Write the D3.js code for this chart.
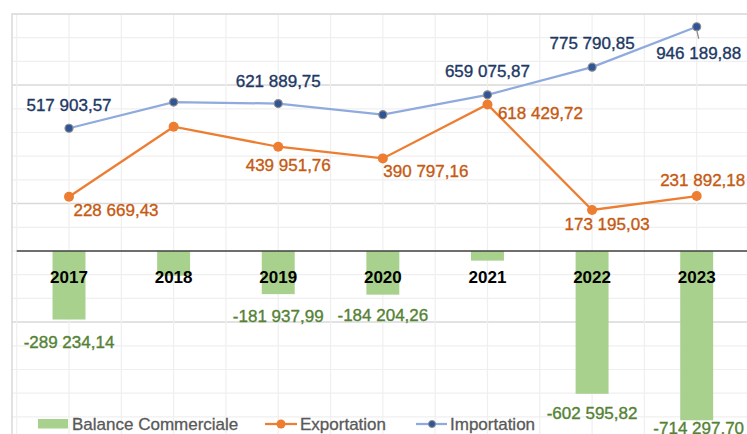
<!DOCTYPE html>
<html>
<head>
<meta charset="utf-8">
<script src="https://cdn.jsdelivr.net/npm/d3@7"></script>
<style>
  body { margin: 0; background: #fff; overflow: hidden; }
  svg text { font-family: "Liberation Sans", Arial, sans-serif; }
</style>
</head>
<body>
<div id="chart"></div>
<script>
// data
const years = ['2017', '2018', '2019', '2020', '2021', '2022', '2023'];
const importation = [517903.57, 628500, 621889.75, 575001.42, 659075.87, 775790.85, 946189.88];
const exportation = [228669.43, 524300, 439951.76, 390797.16, 618429.72, 173195.03, 231892.18];
const balance = [-289234.14, -104200, -181937.99, -184204.26, -40646.15, -602595.82, -714297.70];

// label placement (offset of label centre from the point / bar end), null = no label
const importLabelOffsets = [[0, -23], null, [0, -22], null, [0, -23], [0, -24], [2, 27]];
const exportLabelOffsets = [[47, 14], null, [10, 19], [43, 13], [53, 9], [15, 15], [6, -16]];
const balanceLabelOffsets = [[0, 23], null, [0, 22], [0, 21], null, [0, 20], [2, 8]];

const width = 747, height = 434;
const plot = { left: 16.7, right: 749, top: 14, bottom: 440.6 };

const fr = d3.formatLocale({ decimal: ',', thousands: ' ', grouping: [3], currency: ['', ''], minus: '-' });
const fmt = fr.format(',.2f');

const svg = d3.select('#chart').append('svg')
  .attr('width', width)
  .attr('height', height);

const x = d3.scaleBand()
  .domain(years)
  .range([plot.left, plot.right])
  .padding(0);
const cx = d => x(d) + x.bandwidth() / 2;

const y = d3.scaleLinear()
  .domain([-800000, 1000000])
  .range([plot.bottom, plot.top]);

// horizontal gridlines (minor every 100 000, major every 500 000 from the min)
const hTicks = d3.range(-800000, 1000001, 100000);
svg.append('g').selectAll('line')
  .data(hTicks)
  .join('line')
  .attr('x1', 12).attr('x2', width)
  .attr('y1', d => y(d)).attr('y2', d => y(d))
  .attr('stroke', d => ((d + 800000) % 500000 === 0) ? '#d9d9d9' : '#efefef')
  .attr('stroke-width', d => ((d + 800000) % 500000 === 0) ? 1.5 : 1.2);

// vertical gridlines at band edges and centres
const vLines = [];
years.forEach(d => { vLines.push(x(d)); vLines.push(cx(d)); });
svg.append('g').selectAll('line')
  .data(vLines)
  .join('line')
  .attr('x1', d => d).attr('x2', d => d)
  .attr('y1', plot.top).attr('y2', height)
  .attr('stroke', '#efefef')
  .attr('stroke-width', 1.2);

// outer chart border
svg.append('path')
  .attr('d', `M12,${height}V14H${width}`)
  .attr('fill', 'none')
  .attr('stroke', '#d9d9d9')
  .attr('stroke-width', 1.5);

// bars
const barW = x.bandwidth() * 0.315;
svg.append('g').selectAll('rect')
  .data(years)
  .join('rect')
  .attr('x', (d, i) => cx(d) - barW / 2)
  .attr('y', (d, i) => y(Math.max(0, balance[i])))
  .attr('width', barW)
  .attr('height', (d, i) => Math.abs(y(balance[i]) - y(0)))
  .attr('fill', '#a9d18e');

// zero axis
svg.append('line')
  .attr('x1', plot.left).attr('x2', width)
  .attr('y1', y(0)).attr('y2', y(0))
  .attr('stroke', '#404040')
  .attr('stroke-width', 1.3);

// category labels
svg.append('g').selectAll('text')
  .data(years)
  .join('text')
  .attr('x', d => cx(d))
  .attr('y', y(0) + 26)
  .attr('text-anchor', 'middle')
  .attr('dominant-baseline', 'central')
  .attr('font-size', 17)
  .attr('font-weight', 'bold')
  .attr('fill', '#000')
  .text(d => d);

const line = d3.line().x(d => cx(d[0])).y(d => y(d[1]));

// importation line
svg.append('path')
  .datum(years.map((d, i) => [d, importation[i]]))
  .attr('d', line)
  .attr('fill', 'none')
  .attr('stroke', '#8faadc')
  .attr('stroke-width', 2.25);

// exportation line
svg.append('path')
  .datum(years.map((d, i) => [d, exportation[i]]))
  .attr('d', line)
  .attr('fill', 'none')
  .attr('stroke', '#ed7d31')
  .attr('stroke-width', 2.25);

// markers
svg.append('g').selectAll('circle')
  .data(years)
  .join('circle')
  .attr('cx', d => cx(d))
  .attr('cy', (d, i) => y(importation[i]))
  .attr('r', 4)
  .attr('fill', '#2f5597')
  .attr('stroke', '#8c8c8c')
  .attr('stroke-width', 1.2);

svg.append('g').selectAll('circle')
  .data(years)
  .join('circle')
  .attr('cx', d => cx(d))
  .attr('cy', (d, i) => y(exportation[i]))
  .attr('r', 5)
  .attr('fill', '#ed7d31');

// leader line for the last importation label
const last = years.length - 1;
svg.append('line')
  .attr('x1', cx(years[last])).attr('y1', y(importation[last]) + 3)
  .attr('x2', cx(years[last]) + 2).attr('y2', y(importation[last]) + 12)
  .attr('stroke', '#8c8c8c')
  .attr('stroke-width', 1.2);

// data labels (thin stroke to get closer to the heavier look of the original)
const drawLabels = (values, offsets, color) => {
  svg.append('g').selectAll('text')
    .data(years.filter((d, i) => offsets[i]))
    .join('text')
    .attr('x', d => cx(d) + offsets[years.indexOf(d)][0])
    .attr('y', d => y(values[years.indexOf(d)]) + offsets[years.indexOf(d)][1])
    .attr('text-anchor', 'middle')
    .attr('dominant-baseline', 'central')
    .attr('font-size', 17)
    .attr('fill', color)
    .attr('stroke', color)
    .attr('stroke-width', 0.35)
    .text(d => fmt(values[years.indexOf(d)]));
};
drawLabels(importation, importLabelOffsets, '#203864');
drawLabels(exportation, exportLabelOffsets, '#c55a11');
drawLabels(balance, balanceLabelOffsets, '#548235');

// legend
const legend = svg.append('g').attr('transform', 'translate(0,424)');
legend.append('rect')
  .attr('x', 38).attr('y', -5).attr('width', 30).attr('height', 9.5)
  .attr('fill', '#a9d18e');
legend.append('text')
  .attr('x', 72).attr('y', 0)
  .attr('dominant-baseline', 'central')
  .attr('font-size', 17).attr('fill', '#595959')
  .attr('stroke', '#595959').attr('stroke-width', 0.3)
  .text('Balance Commerciale');

legend.append('line')
  .attr('x1', 265).attr('x2', 297).attr('y1', 0).attr('y2', 0)
  .attr('stroke', '#ed7d31').attr('stroke-width', 2.25);
legend.append('circle')
  .attr('cx', 281).attr('cy', 0).attr('r', 4.5).attr('fill', '#ed7d31');
legend.append('text')
  .attr('x', 300).attr('y', 0)
  .attr('dominant-baseline', 'central')
  .attr('font-size', 17).attr('fill', '#595959')
  .attr('stroke', '#595959').attr('stroke-width', 0.3)
  .text('Exportation');

legend.append('line')
  .attr('x1', 416).attr('x2', 447).attr('y1', 0).attr('y2', 0)
  .attr('stroke', '#8faadc').attr('stroke-width', 2.25);
legend.append('circle')
  .attr('cx', 432).attr('cy', 0).attr('r', 3.5)
  .attr('fill', '#2f5597').attr('stroke', '#8c8c8c').attr('stroke-width', 1);
legend.append('text')
  .attr('x', 450).attr('y', 0)
  .attr('dominant-baseline', 'central')
  .attr('font-size', 17).attr('fill', '#595959')
  .attr('stroke', '#595959').attr('stroke-width', 0.3)
  .text('Importation');
</script>
</body>
</html>
